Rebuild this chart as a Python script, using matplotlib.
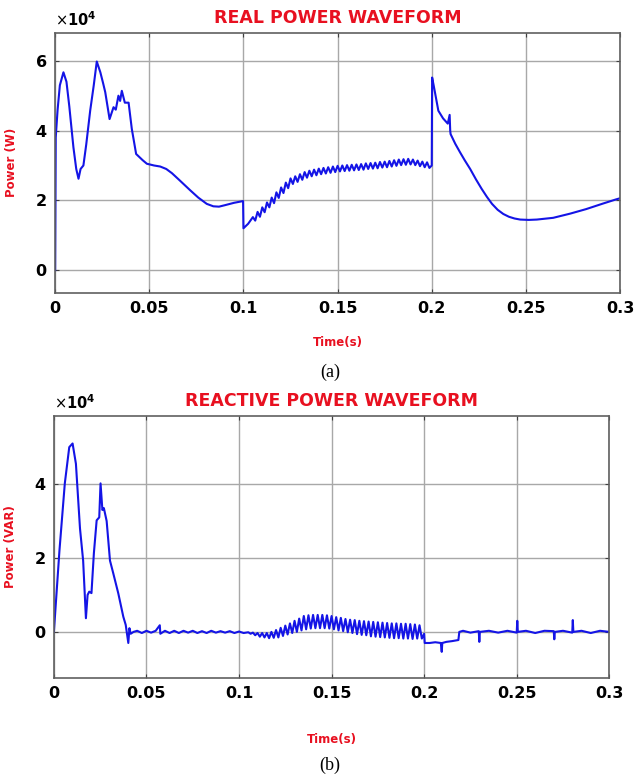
import numpy as np
import matplotlib.pyplot as plt
from matplotlib.ticker import FuncFormatter

# real power (units of 1e4 W)
p_t1 = [0, 0.0003, 0.0013, 0.0025, 0.0044, 0.006, 0.0075, 0.0097, 0.0112, 0.0124,
        0.0135, 0.015, 0.0165, 0.0186, 0.0205, 0.0221, 0.024, 0.0255, 0.0266, 0.0289,
        0.031, 0.0322, 0.0336, 0.0345, 0.0354, 0.037, 0.039, 0.0407, 0.043, 0.0465,
        0.0487, 0.0525, 0.0558, 0.059, 0.062, 0.066, 0.0717, 0.076, 0.0805, 0.084,
        0.087, 0.09, 0.095, 0.0998, 0.1, 0.1025]
p_v1 = [0, 3.8, 4.6, 5.3, 5.67, 5.4, 4.7, 3.52, 2.9, 2.62,
        2.9, 3.0, 3.6, 4.57, 5.3, 5.98, 5.67, 5.35, 5.1, 4.33,
        4.67, 4.6, 5.0, 4.85, 5.14, 4.8, 4.8, 4.05, 3.33, 3.15,
        3.05, 3.0, 2.97, 2.9, 2.78, 2.58, 2.29, 2.08, 1.9, 1.83,
        1.82, 1.86, 1.93, 1.98, 1.2, 1.33]
# ripple section 0.105 .. 0.19875, sampled every 1.25 ms
p_v2 = [1.52, 1.42, 1.67, 1.53, 1.80, 1.66, 1.94, 1.80, 2.08, 1.92,
        2.23, 2.07, 2.37, 2.21, 2.51, 2.35, 2.63, 2.47, 2.69, 2.53,
        2.75, 2.59, 2.81, 2.65, 2.85, 2.69, 2.88, 2.72, 2.91, 2.75,
        2.93, 2.77, 2.95, 2.79, 2.97, 2.81, 2.99, 2.83, 3.00, 2.84,
        3.01, 2.85, 3.02, 2.86, 3.03, 2.87, 3.04, 2.88, 3.06, 2.90,
        3.07, 2.91, 3.08, 2.92, 3.10, 2.94, 3.11, 2.95, 3.13, 2.97,
        3.15, 2.99, 3.17, 3.01, 3.18, 3.02, 3.19, 3.03, 3.17, 3.01,
        3.14, 2.98, 3.11, 2.95, 3.09, 2.93]
p_t3 = [0.2, 0.2002, 0.201, 0.2035, 0.206, 0.2085, 0.2095, 0.2098, 0.21, 0.2125,
        0.215, 0.2175, 0.2204, 0.2235, 0.2265, 0.2293, 0.232, 0.235, 0.238, 0.241,
        0.244, 0.247, 0.2515, 0.2558, 0.2645, 0.2735, 0.282, 0.291, 0.298, 0.3]
p_v3 = [3.0, 5.52, 5.3, 4.57, 4.35, 4.2, 4.45, 4.0, 3.9, 3.62,
        3.38, 3.15, 2.9, 2.6, 2.33, 2.1, 1.9, 1.73, 1.61, 1.53,
        1.48, 1.45, 1.44, 1.45, 1.5, 1.62, 1.75, 1.91, 2.03, 2.06]

# reactive power (units of 1e4 VAR)
q_t1 = [0, 0.003, 0.0059, 0.0083, 0.0101, 0.0119, 0.0141, 0.0158, 0.0173, 0.0182,
        0.0191, 0.0203, 0.0216, 0.0231, 0.0245, 0.0252, 0.0262, 0.027, 0.0285, 0.0303,
        0.032, 0.0348, 0.0375, 0.0388, 0.0402, 0.0408, 0.0415, 0.043]
q_v1 = [0, 2.2, 4.02, 5.0, 5.1, 4.55, 2.8, 1.93, 0.37, 1.0,
        1.09, 1.05, 2.13, 3.02, 3.1, 4.02, 3.3, 3.35, 3.0, 1.93,
        1.6, 1.04, 0.41, 0.19, -0.3, 0.1, -0.05, 0.0]
q_t2 = [0.045, 0.0475, 0.05, 0.0525, 0.055, 0.0572, 0.0575, 0.06, 0.0625, 0.065,
        0.0675, 0.07, 0.0725, 0.075, 0.0775, 0.08, 0.0825, 0.085, 0.0875, 0.09,
        0.0925, 0.095, 0.0975, 0.1, 0.1025]
q_v2 = [0.03, -0.03, 0.03, -0.02, 0.03, 0.18, -0.05, 0.03, -0.03, 0.03,
        -0.03, 0.03, -0.02, 0.03, -0.03, 0.02, -0.03, 0.03, -0.02, 0.02,
        -0.02, 0.02, -0.03, 0.01, -0.03]
# ripple section 0.105 .. 0.19875, sampled every 1.25 ms
q_v3 = [-0.01, -0.05, -0.02, -0.09, -0.03, -0.13, -0.03, -0.15, -0.03, -0.17,
        0.0, -0.16, 0.05, -0.15, 0.11, -0.11, 0.17, -0.07, 0.23, -0.03,
        0.30, 0.0, 0.36, 0.04, 0.43, 0.07, 0.45, 0.09, 0.46, 0.10,
        0.46, 0.10, 0.46, 0.10, 0.45, 0.09, 0.43, 0.07, 0.40, 0.04,
        0.38, 0.02, 0.35, -0.01, 0.33, -0.03, 0.32, -0.06, 0.30, -0.08,
        0.29, -0.09, 0.28, -0.12, 0.27, -0.13, 0.26, -0.14, 0.25, -0.15,
        0.24, -0.16, 0.23, -0.17, 0.23, -0.17, 0.22, -0.18, 0.22, -0.18,
        0.21, -0.19, 0.20, -0.18, 0.18, -0.18]
q_t4 = [0.2, 0.2003, 0.203, 0.206, 0.209, 0.2095, 0.2098, 0.212, 0.215, 0.2185,
        0.219, 0.221, 0.225, 0.2295, 0.2298, 0.2301, 0.235, 0.24, 0.245, 0.25,
        0.2503, 0.2506, 0.255, 0.26, 0.265, 0.27, 0.2703, 0.2706, 0.275, 0.28,
        0.2803, 0.2806, 0.285, 0.29, 0.295, 0.3]
q_v4 = [-0.05, -0.3, -0.3, -0.28, -0.3, -0.54, -0.3, -0.27, -0.25, -0.22,
        0.0, 0.03, -0.02, 0.02, -0.27, 0.0, 0.03, -0.02, 0.03, -0.02,
        0.3, 0.0, 0.03, -0.03, 0.03, 0.02, -0.2, 0.0, 0.03, -0.02,
        0.32, 0.0, 0.03, -0.03, 0.03, 0.0]

ripple_t = np.arange(0.105, 0.2, 0.00125)[:len(p_v2)]

real_t = np.concatenate([p_t1, ripple_t, p_t3])
real_v = np.concatenate([p_v1, p_v2, p_v3]) * 1e4
reac_t = np.concatenate([q_t1, q_t2, ripple_t, q_t4])
reac_v = np.concatenate([q_v1, q_v2, q_v3, q_v4]) * 1e4

xticks = [0, 0.05, 0.1, 0.15, 0.2, 0.25, 0.3]
xticklabels = ['0', '0.05', '0.1', '0.15', '0.2', '0.25', '0.3']

line_color = '#1414e6'
red = '#e81020'

fig = plt.figure(figsize=(6.34, 7.83), dpi=100)
ax1 = fig.add_axes([0.087, 0.626, 0.891, 0.332])
ax2 = fig.add_axes([0.085, 0.134, 0.876, 0.335])


def style(ax, title, title_size, ylabel, ylim, yticks, xlab_y):
    ax.set_xlim(0, 0.3)
    ax.set_ylim(*ylim)
    ax.set_xticks(xticks)
    ax.set_xticklabels(xticklabels)
    ax.set_yticks(yticks)
    ax.yaxis.set_major_formatter(FuncFormatter(lambda v, p: '%g' % (v / 1e4)))
    ax.grid(True, color='#a8a8a8', linewidth=1.0)
    ax.set_axisbelow(True)
    for s in ax.spines.values():
        s.set_color('#606060')
        s.set_linewidth(1.2)
    ax.tick_params(direction='in', top=True, right=True, length=3,
                   color='#404040', labelsize=11.5, pad=6)
    for lab in ax.get_xticklabels() + ax.get_yticklabels():
        lab.set_fontweight('bold')
    ax.set_title(title, color=red, fontweight='bold', fontsize=title_size, pad=7)
    ax.set_ylabel(ylabel, color=red, fontweight='bold', fontsize=8.5)
    ax.yaxis.set_label_coords(-0.066, 0.5)
    ax.set_xlabel('Time(s)', color=red, fontweight='bold', fontsize=8.5, va='center')
    ax.xaxis.set_label_coords(0.5, xlab_y)
    ax.text(0.0, 1.015, r'$\times\mathbf{10}^{\mathbf{4}}$', transform=ax.transAxes,
            fontsize=10.5, va='bottom', ha='left')


ax1.plot(real_t, real_v, color=line_color, linewidth=1.5)
style(ax1, 'REAL POWER WAVEFORM', 12.5, 'Power (W)', (-0.65e4, 6.8e4),
      [0, 2e4, 4e4, 6e4], -0.19)

ax2.plot(reac_t, reac_v, color=line_color, linewidth=1.5)
style(ax2, 'REACTIVE POWER WAVEFORM', 12.5, 'Power (VAR)', (-1.25e4, 5.85e4),
      [0, 2e4, 4e4], -0.235)

fig.text(330 / 634, 1 - 372 / 783, '(a)', family='Liberation Serif', fontsize=13,
         ha='center', va='center')
fig.text(330 / 634, 1 - 765 / 783, '(b)', family='Liberation Serif', fontsize=13,
         ha='center', va='center')

fig.savefig('out.png', dpi=100)
